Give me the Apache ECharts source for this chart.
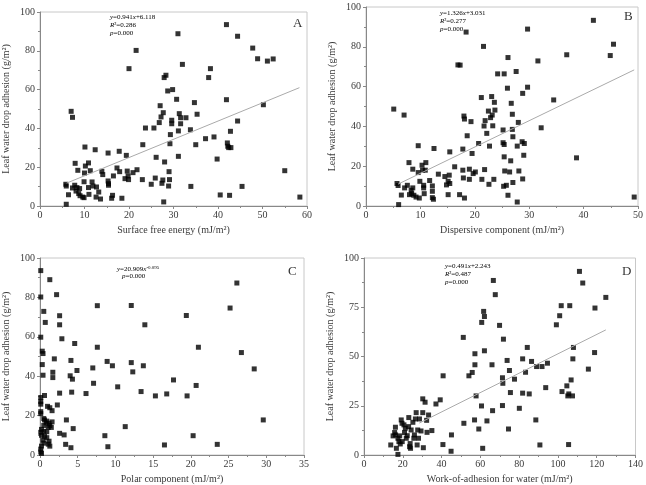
<!DOCTYPE html>
<html>
<head>
    <meta charset="utf-8">
    <script src="https://cdn.jsdelivr.net/npm/echarts@6/dist/echarts.min.js"></script>
</head>
<body style="margin:0">
    <div id="main" style="width: 646px;height:485px;"></div>
    <script type="text/javascript">
        // panel A: surface free energy vs adhesion
        var dataA = [[5.9,0.9],[5.8,11.2],[5.9,10.3],[6.4,5.8],[7.0,48.8],[7.3,45.7],[7.3,9.3],[7.9,22.0],[7.8,10.7],[8.1,7.7],[8.3,9.5],[8.5,18.4],[8.7,6.4],[8.9,9.0],[9.0,5.3],[9.6,4.6],[9.9,4.3],[9.9,12.5],[10.1,30.4],[10.0,17.0],[10.2,20.6],[10.9,22.2],[10.9,9.5],[11.0,6.0],[11.3,18.2],[11.7,12.4],[11.9,10.3],[12.4,29.0],[12.6,4.6],[12.7,9.8],[13.2,7.2],[13.6,3.6],[13.9,17.9],[14.1,16.2],[15.3,27.3],[15.3,12.9],[15.4,10.7],[15.4,11.5],[16.1,4.0],[16.3,5.5],[16.5,15.5],[17.3,19.6],[17.8,28.2],[17.9,17.7],[18.4,4.0],[19.1,14.1],[19.4,26.1],[19.6,18.0],[19.8,15.5],[19.9,13.6],[20.0,70.8],[20.9,17.2],[21.6,80.2],[21.8,18.7],[23.0,13.6],[23.1,31.6],[23.7,40.2],[25.0,11.2],[25.6,40.2],[25.9,14.4],[26.1,25.1],[26.8,43.0],[27.0,51.7],[27.2,45.9],[27.4,11.7],[27.6,13.4],[27.7,48.1],[27.8,2.1],[27.9,66.2],[28.3,67.4],[28.0,22.7],[28.7,59.3],[28.9,10.3],[29.0,17.7],[29.1,13.6],[29.2,32.1],[29.3,36.8],[29.6,44.2],[29.6,42.4],[29.8,60.0],[30.7,55.0],[31.0,88.8],[31.1,38.7],[31.1,25.6],[31.3,47.6],[31.6,42.4],[31.6,45.5],[32.0,73.0],[32.8,45.5],[33.8,39.3],[33.9,10.1],[34.7,53.3],[35.0,31.6],[35.3,47.3],[37.2,34.7],[38.3,70.8],[37.9,66.2],[39.1,35.6],[39.8,24.2],[40.5,5.7],[41.9,93.5],[41.9,54.8],[42.1,32.5],[42.2,30.8],[42.4,30.1],[42.6,5.5],[42.8,38.5],[42.9,30.1],[44.4,87.5],[44.4,43.8],[45.4,10.1],[47.8,81.4],[48.9,75.9],[50.2,52.2],[51.1,74.7],[52.4,75.8],[55.0,18.2],[58.4,4.6]];
        var fitA = [[6, 11.8], [58.3, 61.0]];

        // panel B: dispersive component
        var dataB = [[5.1,48.7],[6.0,0.7],[5.7,11.3],[5.9,10.3],[6.5,5.5],[7.0,45.7],[7.1,9.1],[7.6,10.4],[7.9,21.8],[8.0,5.7],[8.3,7.9],[8.6,18.5],[8.4,6.2],[8.6,9.1],[8.8,5.4],[9.2,4.5],[9.6,30.3],[9.6,16.8],[9.8,4.0],[9.9,12.4],[10.3,20.5],[10.4,18.0],[10.6,10.4],[10.6,9.1],[10.7,6.2],[10.9,18.0],[11.0,21.8],[11.7,12.8],[12.2,10.1],[12.2,7.4],[12.2,4.2],[12.4,3.4],[12.5,28.9],[13.3,16.0],[14.5,14.8],[14.8,10.6],[15.1,5.7],[15.1,12.4],[15.3,15.5],[15.4,27.2],[15.4,11.3],[16.3,19.7],[16.9,70.9],[17.3,70.8],[17.2,5.7],[17.8,28.6],[17.8,18.0],[17.9,14.1],[18.0,45.2],[18.1,43.7],[18.1,4.0],[18.4,87.4],[18.6,35.3],[19.0,18.5],[19.0,13.4],[19.3,42.4],[19.5,26.4],[19.7,16.3],[20.1,17.1],[20.7,31.4],[21.2,54.5],[21.3,13.4],[21.6,80.2],[21.7,40.2],[21.8,18.3],[21.9,42.9],[22.2,36.5],[22.5,47.7],[22.6,10.9],[22.7,30.1],[22.9,44.4],[23.1,55.0],[23.2,45.7],[23.3,40.3],[23.5,13.4],[23.6,52.1],[23.7,48.2],[24.2,66.4],[25.2,38.2],[25.2,31.8],[25.4,30.9],[25.4,66.4],[25.4,24.7],[25.3,9.9],[25.5,17.6],[25.8,10.4],[26.0,59.2],[26.1,74.6],[26.1,5.4],[26.4,17.1],[26.6,22.7],[26.7,51.6],[26.9,46.1],[26.9,38.5],[27.0,34.8],[27.0,11.8],[27.6,67.6],[27.8,2.0],[27.8,30.1],[28.0,42.0],[28.1,17.6],[28.7,32.3],[28.8,56.6],[28.8,13.6],[29.0,25.5],[29.1,31.4],[29.7,88.9],[29.7,59.7],[31.6,72.9],[32.2,39.3],[34.5,53.3],[36.9,76.0],[38.7,24.2],[41.8,93.3],[44.9,75.6],[45.5,81.3],[49.3,4.5]];
        var fitB = [[5.9, 11.0], [49.3, 68.4]];

        // panel C: polar component
        var dataC = [[0.1,93.6],[0.1,80.2],[0.1,59.8],[1.3,89.0],[0.5,72.9],[0.7,67.3],[0.3,52.7],[0.4,51.5],[0.3,45.9],[0.4,40.5],[0.6,30.2],[0.1,29.2],[0.1,27.1],[0.1,25.8],[0.1,22.0],[0.1,21.0],[1.0,24.7],[1.3,24.0],[1.6,22.5],[0.5,18.5],[0.6,17.8],[0.9,17.2],[0.8,16.3],[1.2,16.1],[1.3,15.0],[0.5,15.0],[1.1,14.0],[1.5,14.0],[1.6,16.8],[0.2,13.0],[0.1,11.5],[0.2,10.0],[0.5,12.0],[0.9,11.8],[0.6,9.5],[0.9,8.8],[0.4,7.5],[1.2,7.0],[0.5,6.0],[0.2,4.5],[0.1,3.0],[0.1,1.5],[0.2,0.8],[1.3,4.5],[1.1,5.5],[2.2,81.4],[2.6,70.7],[2.6,66.1],[2.9,59.0],[1.9,48.8],[1.7,42.0],[1.7,39.3],[2.6,31.4],[2.3,25.4],[2.6,11.0],[3.2,10.2],[3.5,17.8],[3.4,5.4],[4.1,3.7],[4.4,13.4],[4.6,56.6],[4.1,48.0],[4.0,40.2],[4.3,38.5],[4.2,31.9],[4.9,42.9],[6.1,31.2],[7.0,44.2],[7.1,36.4],[7.6,75.8],[7.6,54.7],[8.6,9.8],[8.9,47.5],[9.0,4.2],[9.6,45.3],[10.3,34.6],[11.3,14.4],[12.1,75.9],[12.1,46.9],[12.3,42.2],[13.4,32.2],[13.7,45.3],[13.9,66.1],[15.3,30.0],[16.5,5.1],[16.8,31.0],[17.7,38.1],[19.4,70.8],[19.5,30.0],[20.3,9.8],[20.7,35.3],[21.0,54.7],[23.5,5.4],[25.2,74.6],[26.1,87.3],[26.7,52.0],[28.4,43.7],[29.6,17.8]];

        // panel D: work of adhesion for water
        var dataD = [[13.8,5.1],[15.0,9.7],[15.8,11.4],[16.2,14.1],[16.3,10.2],[16.7,3.4],[17.5,0.3],[17.5,8.5],[18.0,6.8],[18.4,9.7],[19.2,17.8],[19.6,16.1],[18.7,5.6],[19.7,6.8],[20.6,15.3],[20.9,11.4],[21.3,13.6],[21.8,8.5],[22.3,9.8],[23.0,14.4],[23.1,19.0],[23.5,4.2],[23.8,5.8],[24.0,3.4],[24.3,12.7],[25.2,16.6],[25.7,8.5],[26.0,10.2],[26.5,18.3],[26.9,21.5],[27.4,5.1],[27.7,12.7],[28.1,8.5],[28.6,18.3],[29.4,12.2],[30.3,28.5],[30.3,21.5],[30.6,3.7],[31.5,26.8],[32.3,17.6],[32.5,11.5],[33.3,20.3],[35.0,12.4],[37.1,25.9],[39.3,28.0],[40.8,40.2],[40.7,5.3],[45.1,10.2],[44.9,1.9],[51.2,59.7],[51.5,16.1],[54.1,40.2],[55.8,41.9],[57.2,51.4],[57.2,45.8],[57.0,17.8],[57.8,30.0],[59.2,13.2],[60.6,24.9],[60.7,67.3],[61.2,3.4],[61.7,72.9],[62.1,70.3],[62.1,52.9],[63.4,17.3],[66.0,45.8],[66.3,22.5],[66.7,88.6],[67.7,81.4],[69.9,65.8],[71.4,39.2],[71.6,36.4],[71.4,25.1],[71.9,58.8],[73.8,48.0],[74.5,13.2],[75.0,42.9],[75.5,31.7],[77.6,38.5],[80.1,23.7],[81.8,48.8],[81.8,31.4],[83.3,42.0],[84.2,54.6],[85.2,31.0],[86.4,47.5],[88.6,17.8],[89.0,44.9],[90.7,5.1],[91.8,44.9],[93.7,34.2],[94.6,46.6],[99.2,66.1],[100.9,70.7],[101.7,75.8],[102.1,32.2],[104.6,35.1],[105.1,30.0],[105.5,5.3],[105.6,31.0],[106.1,75.8],[106.8,38.1],[107.5,30.0],[107.7,48.8],[108.0,54.6],[111.1,93.2],[112.8,87.3],[115.7,43.6],[118.9,52.0],[119.1,74.6],[124.7,80.0]];
        var fitD = [[28.5, 16.2], [124.7, 63.5]];

        var xNames = ['Surface free energy (mJ/m²)', 'Dispersive component (mJ/m²)', 'Polar component (mJ/m²)', 'Work-of-adhesion for water (mJ/m²)'];
        var xMax = [60, 50, 35, 140];
        var xStep = [10, 10, 5, 20];
        var yStep = [20, 20, 20, 25];
        var panelLabels = ['A', 'B', 'C', 'D'];

        var font = 'Liberation Serif';
        var axisColor = '#888';
        var textColor = '#3a3a3a';

        var myChart = echarts.init(document.getElementById('main'));

        var grids = [
            { left: 37, top: 12, width: 270, height: 194 },
            { left: 366, top: 7, width: 275, height: 199 },
            { left: 31, top: 258, width: 273, height: 197 },
            { left: 364, top: 258, width: 274, height: 197 }
        ];
        grids.forEach(function (g) {
            g.show = true;
            g.borderColor = '#c8c8c8';
            g.borderWidth = 1;
        });

        var xAxes = [], yAxes = [];
        for (var i = 0; i < 4; i++) {
            xAxes.push({
                gridIndex: i, type: 'value', min: 0, max: xMax[i], interval: xStep[i],
                name: xNames[i], nameLocation: 'middle', nameGap: 19,
                nameTextStyle: { fontFamily: font, fontSize: 10, color: textColor },
                axisLine: { show: true, onZero: false, lineStyle: { color: axisColor } },
                axisTick: { show: true, length: 3, lineStyle: { color: axisColor } },
                minorTick: { show: true, splitNumber: 2, length: 2, lineStyle: { color: axisColor } },
                splitLine: { show: false },
                axisLabel: { fontFamily: font, fontSize: 10, color: textColor, margin: 4 }
            });
            yAxes.push({
                gridIndex: i, type: 'value', min: 0, max: 100, interval: yStep[i],
                name: 'Leaf water drop adhesion (g/m²)', nameLocation: 'middle', nameGap: 29,
                nameTextStyle: { fontFamily: font, fontSize: 10, color: textColor },
                axisLine: { show: true, lineStyle: { color: axisColor } },
                axisTick: { show: true, length: 3, lineStyle: { color: axisColor } },
                minorTick: { show: true, splitNumber: 2, length: 2, lineStyle: { color: axisColor } },
                splitLine: { show: false },
                axisLabel: { fontFamily: font, fontSize: 10, color: textColor, margin: 5 }
            });
        }

        function dots(data, idx) {
            return {
                type: 'scatter', xAxisIndex: idx, yAxisIndex: idx, data: data,
                symbol: 'rect', symbolSize: 5, itemStyle: { color: '#000' }, silent: true
            };
        }
        function fitLine(data, idx) {
            return {
                type: 'line', xAxisIndex: idx, yAxisIndex: idx, data: data, symbol: 'none',
                lineStyle: { color: '#aaa', width: 1 }, silent: true
            };
        }

        var rich = {
            i: { fontFamily: font, fontSize: 7, fontStyle: 'italic', color: textColor },
            n: { fontFamily: font, fontSize: 7, color: textColor },
            s: { fontFamily: font, fontSize: 5, color: textColor, verticalAlign: 'top', padding: [0, 0, 4, 0] }
        };
        function eq(x, y, str) {
            return { type: 'text', left: x, top: y, style: { text: str, rich: rich, font: '7px ' + font } };
        }
        var labelPos = [[293, 17], [624, 10], [288, 265], [622, 265]];
        var graphics = [
            eq(110, 14, '{i|y}{n|=0.941}{i|x}{n|+6.118}'),
            eq(110, 22, '{i|R}{n|²=0.286}'),
            eq(110, 30, '{i|p}{n|=0.000}'),
            eq(440, 10, '{i|y}{n|=1.326}{i|x}{n|+3.031}'),
            eq(440, 18, '{i|R}{n|²=0.277}'),
            eq(440, 26, '{i|p}{n|=0.000}'),
            eq(117, 265, '{i|y}{n|=20.909}{i|x}{s|-0.095}'),
            eq(122, 273, '{i|p}{n|=0.000}'),
            eq(445, 263, '{i|y}{n|=0.491}{i|x}{n|+2.243}'),
            eq(445, 271, '{i|R}{n|²=0.487}'),
            eq(445, 279, '{i|p}{n|=0.000}')
        ];
        panelLabels.forEach(function (t, k) {
            graphics.push({
                type: 'text', left: labelPos[k][0], top: labelPos[k][1],
                style: { text: t, font: '13px ' + font, fill: '#333' }
            });
        });

        myChart.setOption({
            animation: false,
            grid: grids,
            xAxis: xAxes,
            yAxis: yAxes,
            graphic: graphics,
            series: [
                fitLine(fitA, 0), dots(dataA, 0),
                fitLine(fitB, 1), dots(dataB, 1),
                dots(dataC, 2),
                fitLine(fitD, 3), dots(dataD, 3)
            ]
        });
    </script>
</body>
</html>
